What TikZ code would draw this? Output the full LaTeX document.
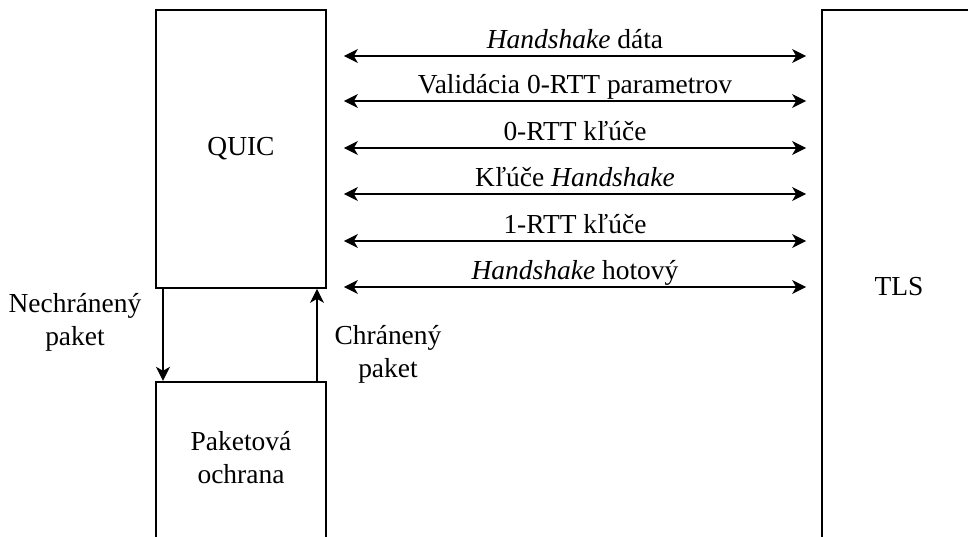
\documentclass[tikz,border=0pt]{standalone}
\usepackage{fontspec}
\setmainfont{Liberation Serif}
\usetikzlibrary{arrows.meta}
\begin{document}
\begin{tikzpicture}[x=0.75pt,y=-0.75pt,
  font=\fontsize{20.6}{24.75}\selectfont,
  box/.style={draw, line width=1.3pt, fill=none, inner sep=0pt},
  lbl/.style={align=center, inner sep=0pt},
  tip/.tip={Stealth[length=10.5pt,width=10.5pt,inset=3pt]},
  conn/.style={line width=1.1pt, -tip},
  dbl/.style={line width=1.1pt, tip-tip},
  albl/.style={anchor=base, inner sep=0pt, yshift=5.5pt}]
\clip (0,0) rectangle (968,536);
\fill[white] (0,0) rectangle (968,536);
% boxes
\node[box, minimum width=127.5pt, minimum height=208.5pt] (quic) at (241,149) {QUIC};
\node[box, minimum width=127.5pt, minimum height=125pt] (pak) at (241,465) {};
\node[lbl] (pakl) at (241,458) {Paketová\\ochrana};
\node[box, minimum width=115.5pt, minimum height=415.5pt] (tls) at (899,287) {TLS};
% horizontal arrows
\foreach \yy/\txt [count=\i] in {56/{\textit{Handshake} dáta},101/{Validácia 0-RTT parametrov},148/{0-RTT kľúče},194/{Kľúče \textit{Handshake}},241/{1-RTT kľúče},287/{\textit{Handshake} hotový}}{
  \coordinate (q\i) at ([xshift=12.75pt]quic.east |- 0,\yy);
  \coordinate (t\i) at ([xshift=-11.25pt]tls.west |- 0,\yy);
  \draw[dbl] (q\i) -- (t\i) node[midway, albl] (l\i) {\txt};
}
% vertical arrows
\draw[conn] (quic.south -| 163,0) -- (pak.north -| 163,0);
\draw[conn] (pak.north -| 317,0) -- (quic.south -| 317,0);
\node[lbl] (nl) at (75,322) {Nechránený\\paket};
\node[lbl] (cl) at (388,354) {Chránený\\paket};
\end{tikzpicture}
\end{document}
